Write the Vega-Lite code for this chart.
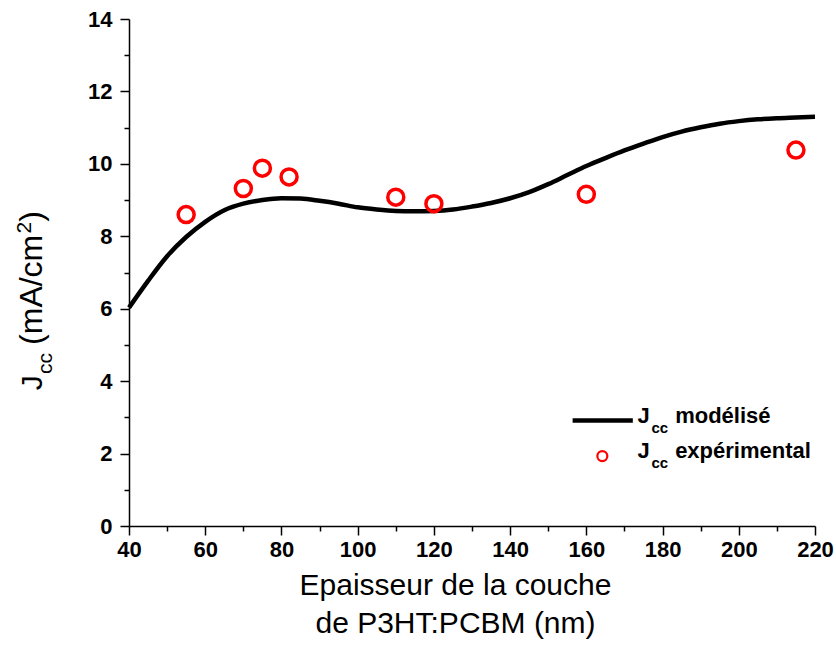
{
  "$schema": "https://vega.github.io/schema/vega-lite/v6.json",
  "width": 686,
  "height": 507,
  "autosize": {"type": "none"},
  "padding": {"left": 129, "top": 19, "right": 21, "bottom": 122},
  "background": "white",
  "config": {"view": {"stroke": null}, "font": "Liberation Sans"},
  "datasets": {
    "model": [
      {"t": 40, "j": 6.03}, {"t": 45, "j": 6.77}, {"t": 50, "j": 7.45}, {"t": 55, "j": 7.98},
      {"t": 60, "j": 8.4}, {"t": 65, "j": 8.72}, {"t": 70, "j": 8.9}, {"t": 75, "j": 9.0},
      {"t": 80, "j": 9.05}, {"t": 85, "j": 9.04}, {"t": 90, "j": 8.98}, {"t": 95, "j": 8.9},
      {"t": 100, "j": 8.8}, {"t": 105, "j": 8.74}, {"t": 110, "j": 8.7}, {"t": 115, "j": 8.69},
      {"t": 120, "j": 8.7}, {"t": 125, "j": 8.74}, {"t": 130, "j": 8.82}, {"t": 135, "j": 8.92},
      {"t": 140, "j": 9.05}, {"t": 145, "j": 9.22}, {"t": 150, "j": 9.44}, {"t": 155, "j": 9.69},
      {"t": 160, "j": 9.94}, {"t": 165, "j": 10.16}, {"t": 170, "j": 10.37}, {"t": 175, "j": 10.56},
      {"t": 180, "j": 10.74}, {"t": 185, "j": 10.89}, {"t": 190, "j": 11.01}, {"t": 195, "j": 11.11},
      {"t": 200, "j": 11.18}, {"t": 205, "j": 11.23}, {"t": 210, "j": 11.26}, {"t": 215, "j": 11.28},
      {"t": 220, "j": 11.3}
    ],
    "exp": [
      {"t": 55, "j": 8.6}, {"t": 70, "j": 9.32}, {"t": 75, "j": 9.88}, {"t": 82, "j": 9.64},
      {"t": 110, "j": 9.08}, {"t": 120, "j": 8.9}, {"t": 160, "j": 9.16}, {"t": 215, "j": 10.38}
    ],
    "one": [{}]
  },
  "resolve": {"axis": {"x": "independent", "y": "independent"}},
  "layer": [
    {
      "data": {"name": "model"},
      "mark": {"type": "line", "color": "black", "strokeWidth": 4.5, "interpolate": "monotone"},
      "encoding": {
        "x": {"field": "t", "type": "quantitative",
          "scale": {"domain": [40, 220], "nice": false, "zero": false},
          "axis": {"orient": "bottom", "values": [40, 60, 80, 100, 120, 140, 160, 180, 200, 220],
            "grid": false, "domainColor": "black", "domainWidth": 1.5, "tickColor": "black", "tickWidth": 1.5,
            "tickSize": 9, "labelFont": "Liberation Sans", "labelFontWeight": "bold", "labelFontSize": 22,
            "labelColor": "black", "labelPadding": 4, "labelFlush": false, "labelOverlap": false,
            "title": ["Epaisseur de la couche", "de P3HT:PCBM (nm)"], "titleFont": "Liberation Sans",
            "titleFontSize": 30, "titleFontWeight": "normal", "titleColor": "black", "titleLineHeight": 38,
            "titlePadding": 10, "titleX": 326}},
        "y": {"field": "j", "type": "quantitative",
          "scale": {"domain": [0, 14], "nice": false, "zero": false},
          "axis": {"orient": "left", "values": [0, 2, 4, 6, 8, 10, 12, 14], "grid": false,
            "domainColor": "black", "domainWidth": 1.5, "tickColor": "black", "tickWidth": 1.5, "tickSize": 9,
            "labelFont": "Liberation Sans", "labelFontWeight": "bold", "labelFontSize": 22, "labelColor": "black",
            "labelPadding": 8, "labelFlush": false, "labelOverlap": false, "title": null}}
      }
    },
    {
      "data": {"name": "exp"},
      "mark": {"type": "point", "shape": "circle", "filled": false, "color": "#ff0000", "strokeWidth": 3.5, "size": 256, "opacity": 1},
      "encoding": {
        "x": {"field": "t", "type": "quantitative",
          "scale": {"domain": [40, 220], "nice": false, "zero": false},
          "axis": {"orient": "bottom", "values": [50, 70, 90, 110, 130, 150, 170, 190, 210], "grid": false,
            "domain": false, "labels": false, "tickColor": "black", "tickWidth": 1.5, "tickSize": 5, "title": null}},
        "y": {"field": "j", "type": "quantitative",
          "scale": {"domain": [0, 14], "nice": false, "zero": false},
          "axis": {"orient": "left", "values": [1, 3, 5, 7, 9, 11, 13], "grid": false,
            "domain": false, "labels": false, "tickColor": "black", "tickWidth": 1.5, "tickSize": 5, "title": null}}
      }
    },
    {
      "data": {"name": "one"},
      "mark": {"type": "rule", "color": "black", "strokeWidth": 4.5},
      "encoding": {
        "x": {"datum": 156.4, "type": "quantitative", "scale": {"domain": [40, 220], "nice": false, "zero": false}, "axis": null},
        "x2": {"datum": 172.2},
        "y": {"datum": 2.91, "type": "quantitative", "scale": {"domain": [0, 14], "nice": false, "zero": false}, "axis": null}
      }
    },
    {
      "data": {"name": "one"},
      "mark": {"type": "point", "shape": "circle", "filled": false, "color": "#ff0000", "strokeWidth": 2.2, "size": 100, "opacity": 1},
      "encoding": {
        "x": {"datum": 164.2, "type": "quantitative", "scale": {"domain": [40, 220], "nice": false, "zero": false}, "axis": null},
        "y": {"datum": 1.93, "type": "quantitative", "scale": {"domain": [0, 14], "nice": false, "zero": false}, "axis": null}
      }
    },
    {
      "data": {"values": [
        {"label": "J", "t": 173.4, "j": 2.84},
        {"label": "modélisé", "t": 183.3, "j": 2.84},
        {"label": "J", "t": 173.4, "j": 1.87},
        {"label": "expérimental", "t": 183.3, "j": 1.87}
      ]},
      "mark": {"type": "text", "align": "left", "baseline": "alphabetic", "font": "Liberation Sans", "fontWeight": "bold", "fontSize": 22, "color": "black"},
      "encoding": {
        "x": {"field": "t", "type": "quantitative", "scale": {"domain": [40, 220], "nice": false, "zero": false}, "axis": null},
        "y": {"field": "j", "type": "quantitative", "scale": {"domain": [0, 14], "nice": false, "zero": false}, "axis": null},
        "text": {"field": "label"}
      }
    },
    {
      "data": {"values": [
        {"label": "cc", "t": 177.1, "j": 2.56},
        {"label": "cc", "t": 177.1, "j": 1.59}
      ]},
      "mark": {"type": "text", "align": "left", "baseline": "alphabetic", "font": "Liberation Sans", "fontWeight": "bold", "fontSize": 15, "color": "black"},
      "encoding": {
        "x": {"field": "t", "type": "quantitative", "scale": {"domain": [40, 220], "nice": false, "zero": false}, "axis": null},
        "y": {"field": "j", "type": "quantitative", "scale": {"domain": [0, 14], "nice": false, "zero": false}, "axis": null},
        "text": {"field": "label"}
      }
    },
    {
      "data": {"values": [
        {"label": "J", "t": 17.1, "j": 3.75}
      ]},
      "mark": {"type": "text", "align": "left", "baseline": "alphabetic", "angle": 270, "font": "Liberation Sans", "fontSize": 30, "color": "black"},
      "encoding": {
        "x": {"field": "t", "type": "quantitative", "scale": {"domain": [40, 220], "nice": false, "zero": false}, "axis": null},
        "y": {"field": "j", "type": "quantitative", "scale": {"domain": [0, 14], "nice": false, "zero": false}, "axis": null},
        "text": {"field": "label"}
      }
    },
    {
      "data": {"values": [
        {"label": "(mA/cm", "t": 17.1, "j": 5.0},
        {"label": ")", "t": 17.1, "j": 8.4}
      ]},
      "mark": {"type": "text", "align": "left", "baseline": "alphabetic", "angle": 270, "font": "Liberation Sans", "fontSize": 32, "color": "black"},
      "encoding": {
        "x": {"field": "t", "type": "quantitative", "scale": {"domain": [40, 220], "nice": false, "zero": false}, "axis": null},
        "y": {"field": "j", "type": "quantitative", "scale": {"domain": [0, 14], "nice": false, "zero": false}, "axis": null},
        "text": {"field": "label"}
      }
    },
    {
      "data": {"values": [
        {"label": "cc", "t": 19.7, "j": 4.2},
        {"label": "2", "t": 14.4, "j": 8.08}
      ]},
      "mark": {"type": "text", "align": "left", "baseline": "alphabetic", "angle": 270, "font": "Liberation Sans", "fontSize": 21, "color": "black"},
      "encoding": {
        "x": {"field": "t", "type": "quantitative", "scale": {"domain": [40, 220], "nice": false, "zero": false}, "axis": null},
        "y": {"field": "j", "type": "quantitative", "scale": {"domain": [0, 14], "nice": false, "zero": false}, "axis": null},
        "text": {"field": "label"}
      }
    }
  ]
}
